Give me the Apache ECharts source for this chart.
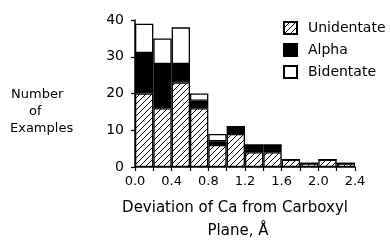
<!DOCTYPE html>
<html>
<head>
<meta charset="utf-8">
<script src="https://cdn.jsdelivr.net/npm/echarts@6/dist/echarts.min.js"></script>
<style>
  html, body { margin: 0; padding: 0; background: #fff; }
  #chart { width: 390px; height: 243px; }
</style>
</head>
<body>
<div id="chart"></div>
<script>
// bins of 0.2 Å, left edges
var binStart = ['0.0', '0.2', '0.4', '0.6', '0.8', '1.0', '1.2', '1.4', '1.6', '1.8', '2.0', '2.2'];
var unidentate = [20, 16, 23, 16, 6, 9, 4, 4, 2, 1, 2, 1];
var alpha = [11, 12, 5, 2, 1, 2, 2, 2, 0, 0, 0, 0];
var bidentate = [8, 7, 10, 2, 2, 0, 0, 0, 0, 0, 0, 0];
var xTicks = [0.0, 0.4, 0.8, 1.2, 1.6, 2.0, 2.4];
var yTicks = [0, 10, 20, 30, 40];

// hatch fill
var hatch = document.createElement('canvas');
hatch.width = 6; hatch.height = 6;
var hc = hatch.getContext('2d');
hc.fillStyle = '#fff';
hc.fillRect(0, 0, 6, 6);
hc.strokeStyle = '#000';
hc.lineWidth = 1;
hc.beginPath();
hc.moveTo(0, 6); hc.lineTo(6, 0);
hc.moveTo(-1, 1); hc.lineTo(1, -1);
hc.moveTo(5, 7); hc.lineTo(7, 5);
hc.stroke();

var font = 'DejaVu Sans';
var myChart = echarts.init(document.getElementById('chart'), null, { renderer: 'canvas' });

function barSeries(name, data, color) {
    return {
        name: name,
        type: 'bar',
        stack: 'all',
        xAxisIndex: 0,
        barCategoryGap: 0,
        data: data,
        itemStyle: { color: color, borderColor: '#000', borderWidth: 1.3 },
        emphasis: { disabled: true }
    };
}

var option = {
    animation: false,
    backgroundColor: '#fff',
    textStyle: { fontFamily: font, color: '#000' },
    grid: { left: 135, right: 35, top: 20, bottom: 76 },
    legend: {
        orient: 'vertical',
        left: 283,
        top: 21,
        padding: 0,
        itemWidth: 13,
        itemHeight: 12,
        itemGap: 8,
        icon: 'rect',
        textStyle: { fontFamily: font, fontSize: 14, color: '#000', padding: [0, 0, 0, 6] },
        data: ['Unidentate', 'Alpha', 'Bidentate']
    },
    xAxis: [
        {
            type: 'category',
            data: binStart,
            axisLine: { show: false },
            axisTick: { show: false },
            axisLabel: { show: false }
        },
        {
            type: 'value',
            min: xTicks[0],
            max: xTicks[xTicks.length - 1],
            interval: 0.2,
            position: 'bottom',
            splitLine: { show: false },
            axisLine: { lineStyle: { color: '#000', width: 1.5 } },
            axisTick: { length: 4, lineStyle: { color: '#000', width: 1.2 } },
            axisLabel: {
                margin: 8,
                fontFamily: font,
                fontSize: 13,
                color: '#000',
                formatter: function (v) {
                    return Math.round(v * 10) % 4 === 0 ? v.toFixed(1) : '';
                }
            }
        }
    ],
    yAxis: {
        type: 'value',
        min: yTicks[0],
        max: yTicks[yTicks.length - 1],
        interval: 10,
        splitLine: { show: false },
        axisLine: { show: true, lineStyle: { color: '#000', width: 1.5 } },
        axisTick: { show: true, length: 4, lineStyle: { color: '#000', width: 1.2 } },
        axisLabel: { margin: 11, fontFamily: font, fontSize: 14, color: '#000' }
    },
    graphic: [
        { type: 'text', left: 11, top: 88, style: { text: 'Number', font: '13px ' + font, fill: '#000' } },
        { type: 'text', left: 29, top: 105, style: { text: 'of', font: '13px ' + font, fill: '#000' } },
        { type: 'text', left: 10, top: 122, style: { text: 'Examples', font: '13px ' + font, fill: '#000' } },
        { type: 'text', x: 235, y: 201, style: { text: 'Deviation of Ca from Carboxyl', font: '15px ' + font, fill: '#000', align: 'center' } },
        { type: 'text', x: 238, y: 224, style: { text: 'Plane, Å', font: '15px ' + font, fill: '#000', align: 'center' } }
    ],
    series: [
        barSeries('Unidentate', unidentate, { image: hatch, repeat: 'repeat' }),
        barSeries('Alpha', alpha, '#000'),
        barSeries('Bidentate', bidentate, '#fff')
    ]
};

option && myChart.setOption(option);
</script>
</body>
</html>
